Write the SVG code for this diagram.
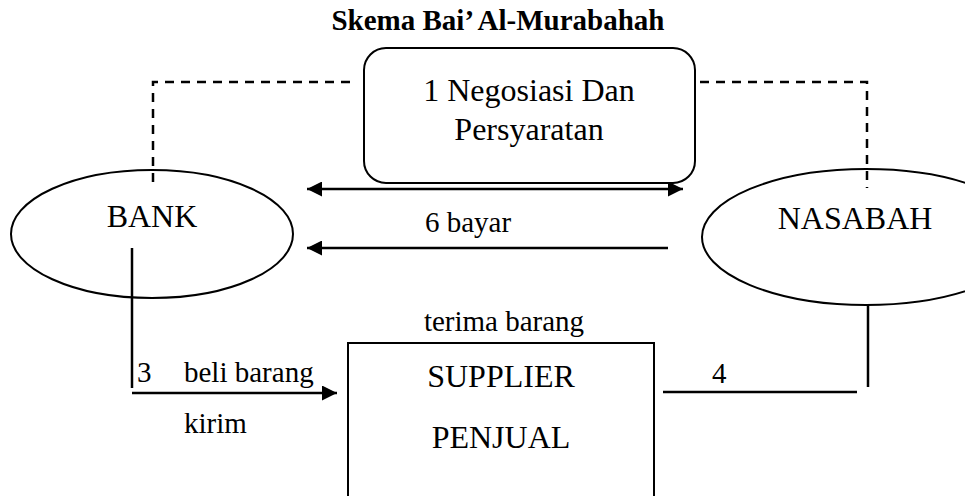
<svg xmlns="http://www.w3.org/2000/svg" width="965" height="496" viewBox="0 0 965 496">
<style>
text{font-family:"Liberation Serif","Times New Roman",serif;fill:#000}
.node{font-size:32px;text-anchor:middle}
.lbl{font-size:29px}
.title{font-size:29px;font-weight:bold;text-anchor:middle}
.shape{fill:#fff;stroke:#000;stroke-width:2}
.line{fill:none;stroke:#000;stroke-width:2.5}
.dash{fill:none;stroke:#000;stroke-width:2.5;stroke-dasharray:9 7}
</style>
<defs>
<marker id="ah" viewBox="0 0 15 15" refX="15" refY="7.5" markerWidth="15" markerHeight="15" markerUnits="userSpaceOnUse" orient="auto-start-reverse">
<path d="M0,0 L15,7.5 L0,15 Z" fill="#000"/>
</marker>
</defs>
<text class="title" x="498" y="30">Skema Bai’ Al-Murabahah</text>
<g id="connectors">
<path class="dash" d="M153,182 V82 H356"/>
<path class="dash" d="M700,82 H867 V188"/>
<line class="line" x1="307" y1="189" x2="683" y2="189" marker-start="url(#ah)" marker-end="url(#ah)"/>
<line class="line" x1="668" y1="248" x2="307" y2="248" marker-end="url(#ah)"/>
<path class="line" d="M132,248 V388"/>
<line class="line" x1="132" y1="393" x2="337" y2="393" marker-end="url(#ah)"/>
<line class="line" x1="663" y1="392" x2="857" y2="392"/>
<path class="line" d="M868,305 V387"/>
<text class="lbl" x="425" y="232">6 bayar</text>
<text class="lbl" x="137" y="382">3</text>
<text class="lbl" x="184" y="382">beli barang</text>
<text class="lbl" x="184" y="433">kirim</text>
<text class="lbl" x="504" y="331" text-anchor="middle">terima barang</text>
<text class="lbl" x="712" y="383">4</text>
</g>
<g id="negosiasi">
<rect class="shape" x="364" y="48" width="331" height="135" rx="22"/>
<text class="node" x="529" y="101">1 Negosiasi Dan</text>
<text class="node" x="529" y="140">Persyaratan</text>
</g>
<g id="bank">
<ellipse cx="152" cy="234" rx="141" ry="64" fill="none" stroke="#000" stroke-width="2"/>
<text class="node" x="152" y="227">BANK</text>
</g>
<g id="nasabah">
<ellipse cx="866" cy="237" rx="164" ry="68" fill="none" stroke="#000" stroke-width="2"/>
<text class="node" x="855" y="229">NASABAH</text>
</g>
<g id="supplier">
<rect class="shape" x="348" y="343" width="306" height="170" fill="none"/>
<text class="node" x="501" y="387">SUPPLIER</text>
<text class="node" x="501" y="448">PENJUAL</text>
</g>
</svg>
